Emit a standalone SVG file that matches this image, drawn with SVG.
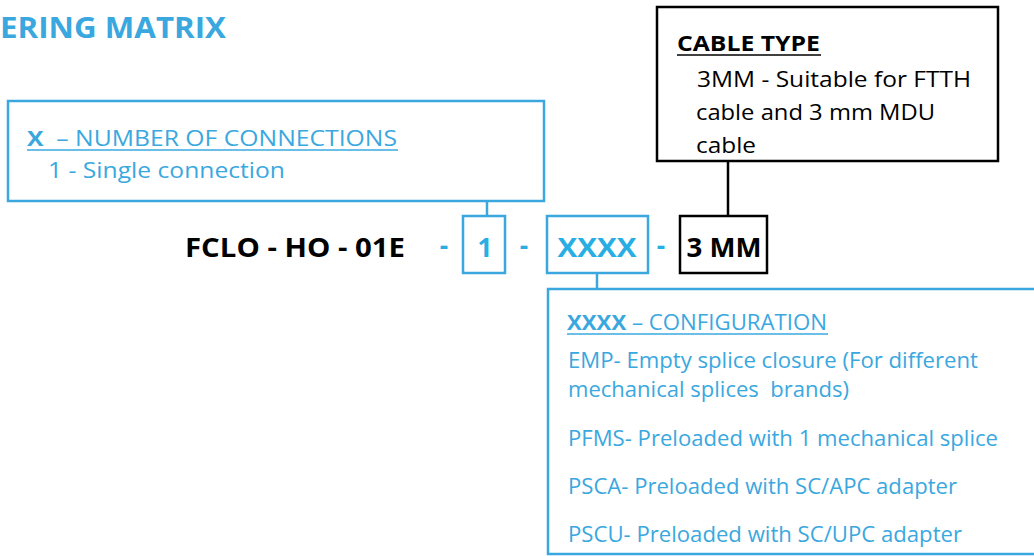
<svg xmlns="http://www.w3.org/2000/svg" width="1034" height="556" viewBox="0 0 1034 556">
<style>
text{font-family:"Open Sans","Noto Sans","Liberation Sans",sans-serif}
.b{fill:#3aa8df}
.bb{fill:#29aee4;font-weight:bold}
.k{fill:#000}
.bold{font-weight:bold}
.bx{fill:#fff;stroke:#3aa8df;stroke-width:2.5}
.kx{fill:#fff;stroke:#000;stroke-width:2.5}
.ln{stroke-width:2.5;fill:none}
</style>
<rect width="1034" height="556" fill="#fff"/>
<text x="0" y="38" class="b bold" font-size="29" textLength="226" lengthAdjust="spacingAndGlyphs">ERING MATRIX</text>
<g id="connectors">
<line x1="487" y1="201" x2="487" y2="216" class="ln" stroke="#3aa8df"/>
<line x1="597" y1="273" x2="597" y2="289" class="ln" stroke="#3aa8df"/>
<line x1="728" y1="161" x2="728" y2="216" class="ln" stroke="#000"/>
</g>
<g id="node-x">
<rect x="8" y="101" width="536" height="100" class="bx"/>
<text x="27" y="146" class="b" font-size="22" textLength="370" lengthAdjust="spacingAndGlyphs" xml:space="preserve"><tspan font-weight="bold">X</tspan>  – NUMBER OF CONNECTIONS</text>
<line x1="27" y1="150" x2="398" y2="150" stroke="#3aa8df" stroke-width="1.5"/>
<text x="48" y="178" class="b" font-size="22" textLength="237" lengthAdjust="spacingAndGlyphs">1 - Single connection</text>
</g>
<g id="node-code">
<text x="185" y="257" class="k bold" font-size="26" textLength="220" lengthAdjust="spacingAndGlyphs">FCLO - HO - 01E</text>
<text x="444" y="255" class="bb" font-size="26" text-anchor="middle">-</text>
<text x="524" y="255" class="bb" font-size="26" text-anchor="middle">-</text>
<text x="661" y="255" class="bb" font-size="26" text-anchor="middle">-</text>
</g>
<g id="node-1">
<rect x="463" y="216" width="42" height="57" class="bx"/>
<text x="485" y="257" class="bb" font-size="26" text-anchor="middle">1</text>
</g>
<g id="node-xxxx">
<rect x="547" y="216" width="101" height="57" class="bx"/>
<text x="597" y="257" class="bb" font-size="26" text-anchor="middle" textLength="79" lengthAdjust="spacingAndGlyphs">XXXX</text>
</g>
<g id="node-3mm">
<rect x="680" y="216" width="87" height="57" class="kx"/>
<text x="724" y="257" class="k bold" font-size="26" text-anchor="middle" textLength="75" lengthAdjust="spacingAndGlyphs">3 MM</text>
</g>
<g id="node-cable">
<rect x="657" y="7" width="341" height="154" class="kx"/>
<text x="677" y="51" class="k bold" font-size="22" textLength="143" lengthAdjust="spacingAndGlyphs">CABLE TYPE</text>
<line x1="677" y1="55" x2="821" y2="55" stroke="#000" stroke-width="1.5"/>
<text x="697" y="87" class="k" font-size="22" textLength="274" lengthAdjust="spacingAndGlyphs">3MM - Suitable for FTTH</text>
<text x="696" y="120" class="k" font-size="22" textLength="239" lengthAdjust="spacingAndGlyphs">cable and 3 mm MDU</text>
<text x="696" y="153" class="k" font-size="22" textLength="60" lengthAdjust="spacingAndGlyphs">cable</text>
</g>
<g id="node-config">
<rect x="548" y="289" width="500" height="265" class="bx"/>
<text x="567" y="330" class="b" font-size="22" textLength="260" lengthAdjust="spacingAndGlyphs"><tspan font-weight="bold">XXXX</tspan> – CONFIGURATION</text>
<line x1="567" y1="334" x2="828" y2="334" stroke="#3aa8df" stroke-width="1.5"/>
<text x="568" y="368" class="b" font-size="21" textLength="410" lengthAdjust="spacingAndGlyphs">EMP- Empty splice closure (For different</text>
<text x="568" y="397" class="b" font-size="21" textLength="281" lengthAdjust="spacingAndGlyphs" xml:space="preserve">mechanical splices  brands)</text>
<text x="568" y="446" class="b" font-size="21" textLength="430" lengthAdjust="spacingAndGlyphs">PFMS- Preloaded with 1 mechanical splice</text>
<text x="568" y="494" class="b" font-size="21" textLength="389" lengthAdjust="spacingAndGlyphs">PSCA- Preloaded with SC/APC adapter</text>
<text x="568" y="542" class="b" font-size="21" textLength="394" lengthAdjust="spacingAndGlyphs">PSCU- Preloaded with SC/UPC adapter</text>
</g>
</svg>
